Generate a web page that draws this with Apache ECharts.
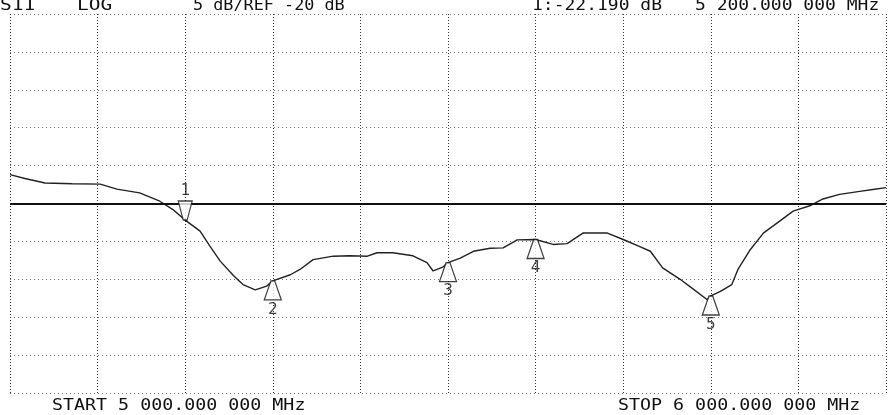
<!DOCTYPE html>
<html>
<head>
<meta charset="utf-8">
<script src="https://cdn.jsdelivr.net/npm/echarts@6/dist/echarts.min.js"></script>
<style>html,body{margin:0;padding:0;background:#fff;}#c{width:890px;height:415px;}</style>
</head>
<body>
<div id="c"></div>
<script>
// Frequency (MHz) and S11 (dB) trace values
const freqs = [5000,5017,5040,5071,5103,5122,5148,5171,5186,5200,5217,5228,5240,5255,5266,5280,5293,5300,5320,5331,5346,5369,5388,5408,5419,5437,5460,5476,5483,5494,5500,5514,5529,5548,5563,5579,5600,5620,5636,5654,5682,5700,5719,5731,5745,5765,5780,5796,5800,5811,5824,5831,5845,5860,5879,5894,5913,5928,5947,5970,5985,6000];
const s11dB = [-16.2,-16.7,-17.3,-17.4,-17.45,-18.1,-18.6,-19.7,-20.8,-22.19,-23.65,-25.6,-27.6,-29.5,-30.7,-31.4,-30.9,-30.2,-29.4,-28.7,-27.4,-26.95,-26.9,-26.95,-26.5,-26.5,-26.9,-27.8,-28.9,-28.4,-27.8,-27.2,-26.3,-25.9,-25.85,-24.8,-24.75,-25.4,-25.3,-23.9,-23.9,-24.75,-25.7,-26.3,-28.5,-30,-31.3,-32.7,-32.2,-31.6,-30.7,-28.7,-26.1,-23.9,-22.3,-21.0,-20.3,-19.4,-18.8,-18.4,-18.15,-17.9];
// Markers
const markerNames = ['1','2','3','4','5'];
const markerFreqs = [5200,5300,5500,5600,5800];
const markerVals = [-22.19,-30.2,-27.8,-24.75,-32.2];
// Axis settings
const refLevel = -20;
const xMin = 5000, xMax = 6000, xStep = 100;
const yMin = -45, yMax = 5, yStep = 5;
// Header / footer texts
const hdrChannel = 'S11';
const hdrFormat = 'LOG';
const hdrScale = '5 dB/REF -20 dB';
const hdrMarker = '1:-22.190 dB';
const hdrMarkerFreq = '5 200.000 000 MHz';
const startText = 'START 5 000.000 000 MHz';
const stopText = 'STOP 6 000.000 000 MHz';

const chart = echarts.init(document.getElementById('c'), null, {renderer: 'canvas'});
const trace = freqs.map((f, i) => [f, s11dB[i]]);
const activeMk = [[markerFreqs[0], markerVals[0], markerNames[0]]];
const otherMk = markerFreqs.slice(1).map((f, i) => [f, markerVals[i + 1], markerNames[i + 1]]);
const FONT = '"DejaVu Sans Mono", monospace';
function txt(x, y, text, sx) {
  return {type: 'text', x: x, y: y, scaleX: sx, z: 10,
    style: {text: text, font: '15px ' + FONT, fill: '#111', textAlign: 'left', textVerticalAlign: 'middle'}};
}
chart.setOption({
  animation: false,
  backgroundColor: '#ffffff',
  grid: {left: 10, right: 4, top: 14, bottom: 22},
  xAxis: {type: 'value', min: xMin, max: xMax, interval: xStep,
    axisLine: {show: false}, axisTick: {show: false}, axisLabel: {show: false},
    splitLine: {show: true, showMinLine: true, showMaxLine: true, lineStyle: {type: [1, 2], color: '#333', width: 1}}},
  yAxis: {type: 'value', min: yMin, max: yMax, interval: yStep,
    axisLine: {show: false}, axisTick: {show: false}, axisLabel: {show: false},
    splitLine: {show: true, showMinLine: true, showMaxLine: true, lineStyle: {type: [1, 3], color: '#777', width: 1}}},
  series: [
    {type: 'line', data: trace, symbol: 'none', smooth: false,
      lineStyle: {color: '#222', width: 1.4}, z: 3,
      markLine: {silent: true, symbol: 'none', label: {show: false},
        lineStyle: {color: '#111', type: 'solid', width: 2},
        data: [{yAxis: refLevel}]}},
    {type: 'scatter', data: otherMk, z: 5,
      symbol: 'path://M7,0 L11,0 L18,19 L0,19 Z', symbolSize: [17, 19], symbolOffset: [0, '50%'],
      itemStyle: {color: '#fff', borderColor: '#111', borderWidth: 1.3},
      label: {show: true, position: 'bottom', distance: 1, formatter: p => p.data[2],
        fontFamily: FONT, fontSize: 16, color: '#111'}},
    {type: 'scatter', data: activeMk, z: 5,
      symbol: 'path://M0,0 L14,0 L9,20 L5,20 Z', symbolSize: [14, 19], symbolOffset: [0, '-50%'],
      itemStyle: {color: '#fff', borderColor: '#111', borderWidth: 1.3},
      label: {show: true, position: 'top', distance: 1, formatter: p => p.data[2],
        fontFamily: FONT, fontSize: 16, color: '#111'}}
  ],
  graphic: [
    txt(0, 6, hdrChannel, 1.3),
    txt(77, 6, hdrFormat, 1.3),
    txt(193, 6, hdrScale, 1.12),
    txt(532, 6, hdrMarker, 1.2),
    txt(695, 6, hdrMarkerFreq, 1.2),
    txt(52, 406, startText, 1.22),
    txt(618, 406, stopText, 1.22)
  ]
});
</script>
</body>
</html>
